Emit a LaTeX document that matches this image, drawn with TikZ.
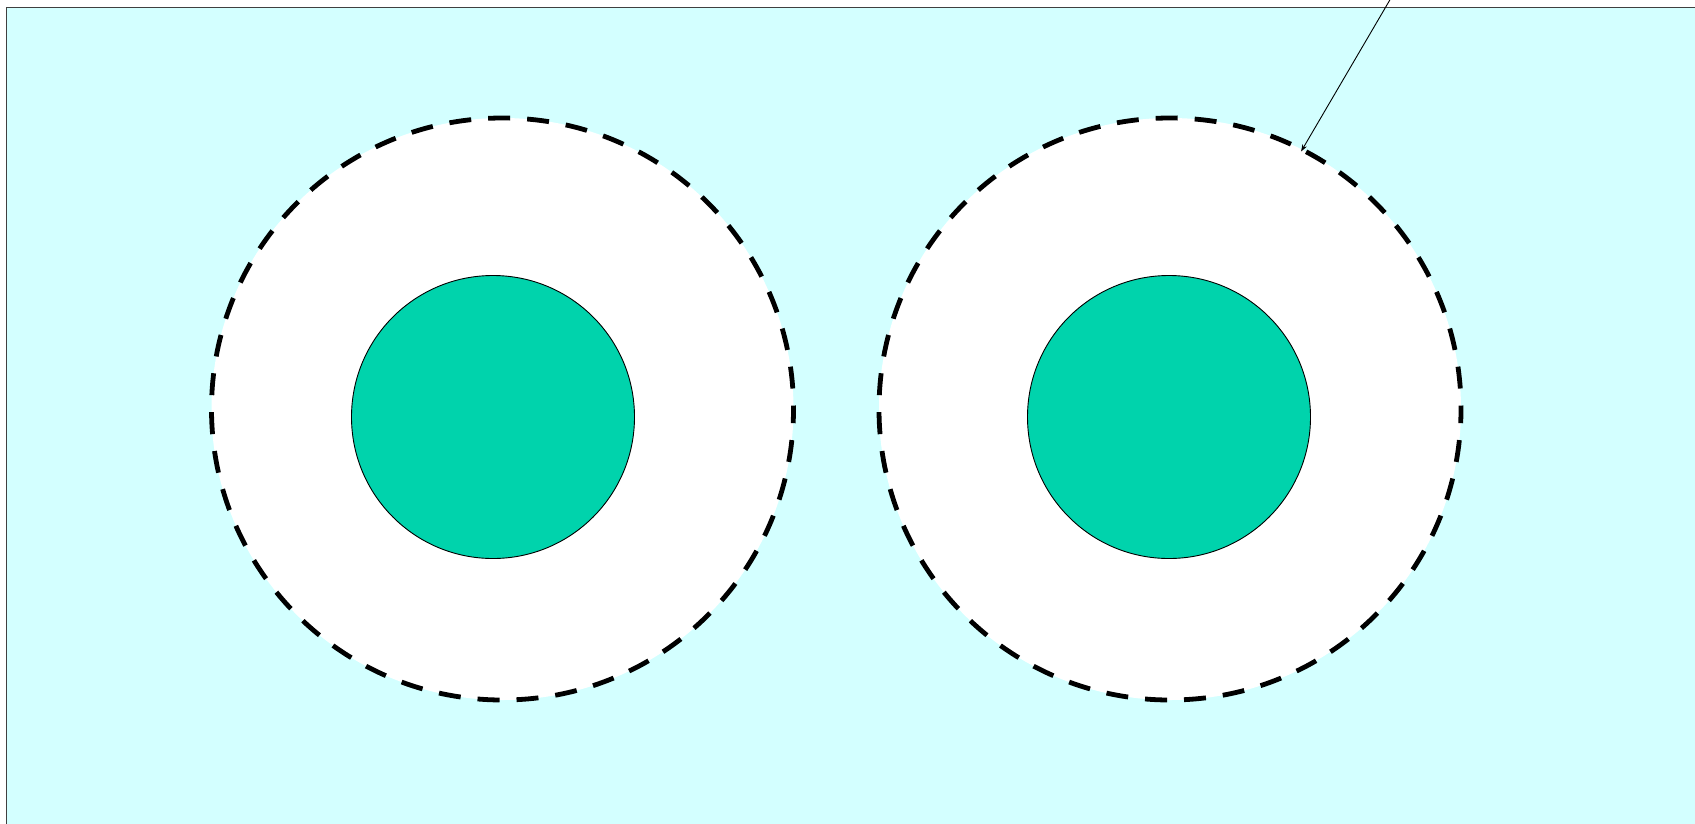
\documentclass[tikz,border=0pt]{standalone}
\usetikzlibrary{arrows.meta}
\definecolor{bgcyan}{HTML}{D3FFFF}
\definecolor{corefill}{HTML}{00D3AC}
\tikzset{
  outerring/.style={circle, draw=black, fill=white, line width=4.8pt,
    dash pattern=on 22pt off 17pt, dash phase=18.5pt,
    minimum size=582pt, inner sep=0pt, outer sep=0pt},
  core/.style={circle, draw=black, fill=corefill, line width=0.9pt,
    minimum size=283pt, inner sep=0pt, outer sep=0pt},
  pointer/.style={draw=black, line width=0.9pt, -{Stealth[length=7pt,width=5pt]}}
}
\begin{document}
\begin{tikzpicture}[x=1pt,y=-1pt]
\useasboundingbox (0,0) rectangle (1695,823);
\clip (0,0) rectangle (1695,823);
\draw[fill=bgcyan, draw=black!75, line width=1.3pt] (6.5,7.8) rectangle (1720,850);
\node[outerring] (outerL) at (502.5,409) {};
\node[outerring] (outerR) at (1170,409) {};
\node[core] (coreL) at (493,417) {};
\node[core] (coreR) at (1169,417) {};
\coordinate (src) at (1391,-2);
\draw[pointer, shorten >=-2pt] (src) -- (outerR.63.8);
\end{tikzpicture}
\end{document}
